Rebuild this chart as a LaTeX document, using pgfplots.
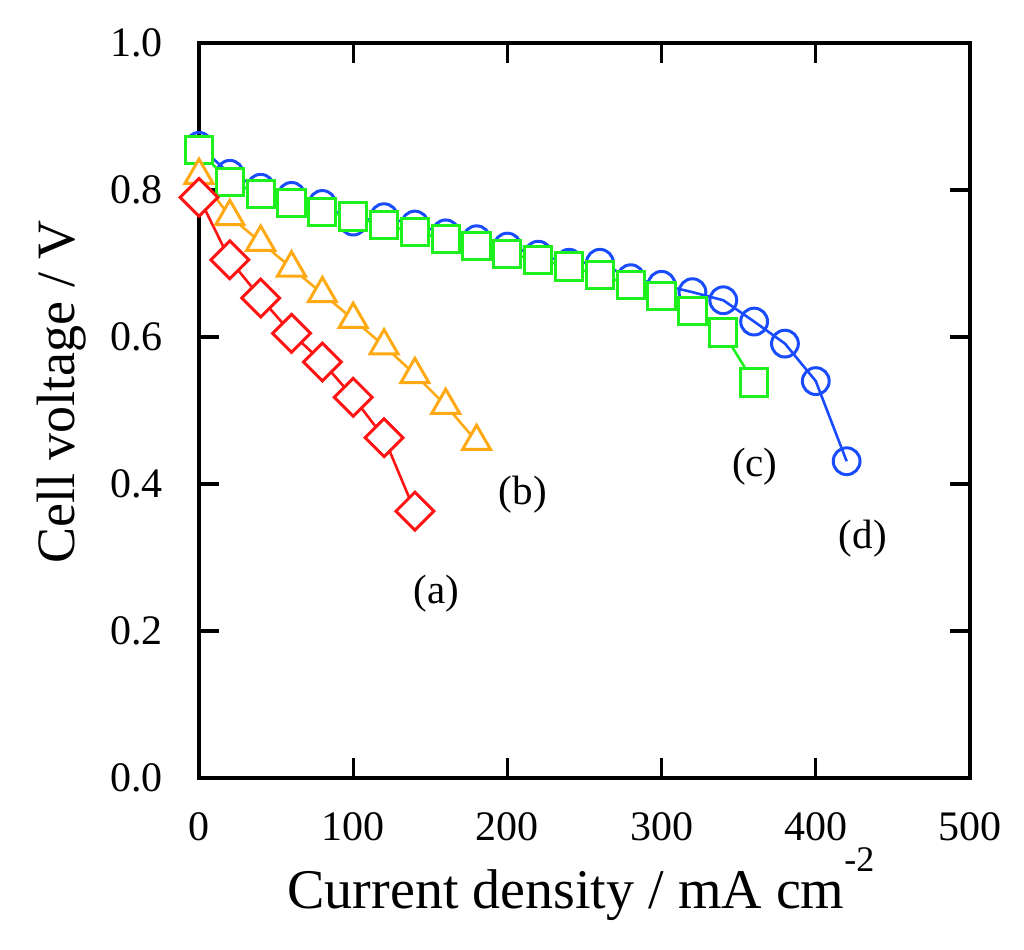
\documentclass[border=0pt]{standalone}
\usepackage{fontspec}
\setmainfont{Liberation Serif}
\usepackage{pgfplots}
\pgfplotsset{compat=1.18}
\definecolor{cblue}{RGB}{25,75,255}
\definecolor{cgreen}{RGB}{30,240,30}
\definecolor{corange}{RGB}{255,170,20}
\definecolor{cred}{RGB}{255,20,20}
\begin{document}
\begin{tikzpicture}
\path[use as bounding box] (-99.5pt,-85.5pt) rectangle (412.5pt,389pt);
\begin{axis}[
  at={(0pt,0pt)}, anchor=south west,
  scale only axis, width=385.5pt, height=367.5pt,
  xmin=0, xmax=500, ymin=0, ymax=1,
  xtick={0,100,200,300,400,500},
  ytick={0,0.2,0.4,0.6,0.8,1.0},
  tick align=inside, major tick length=10pt,
  axis line style={line width=1.6pt},
  every tick/.style={line width=1.6pt, black},
  /pgf/number format/assume math mode=true,
  tick label style={font=\fontsize{21}{21}\selectfont},
  yticklabel style={/pgf/number format/fixed, /pgf/number format/fixed zerofill, /pgf/number format/precision=1, inner sep=0pt, anchor=east, xshift=-18pt},
  xticklabel style={inner sep=0pt, anchor=north, yshift=-17pt},
  xlabel={Current density / mA cm\raisebox{0.65em}{\fontsize{18}{18}\selectfont -2}},
  ylabel={Cell voltage / V},
  xlabel style={font=\fontsize{28}{28}\selectfont, at={(rel axis cs:0.4955,-0.1769)}, anchor=base},
  ylabel style={font=\fontsize{27}{27}\selectfont, at={(rel axis cs:-0.1777,0.525)}, anchor=center},
  clip=false,
]
\addplot[color=cblue, line width=1.3pt, mark=o, mark size=6.7pt, mark options={line width=1.5pt, fill=white, solid}] coordinates {
(0,0.860) (20,0.822) (40,0.803) (60,0.792) (80,0.781) (100,0.757) (120,0.763) (140,0.753) (160,0.741) (180,0.733) (200,0.723) (220,0.712) (240,0.701) (260,0.701) (280,0.680) (300,0.671) (320,0.661) (340,0.650) (360,0.621) (380,0.591) (400,0.540) (420,0.431)
};
\addplot[color=cgreen, line width=1.3pt, mark=square*, mark size=6.8pt, mark options={line width=1.5pt, fill=white, draw=cgreen}] coordinates {
(0,0.854) (20,0.811) (40,0.795) (60,0.782) (80,0.770) (100,0.764) (120,0.752) (140,0.743) (160,0.733) (180,0.724) (200,0.713) (220,0.705) (240,0.696) (260,0.684) (280,0.671) (300,0.656) (320,0.635) (340,0.606) (360,0.538)
};
\addplot[color=corange, line width=1.3pt, mark=triangle*, mark size=8.1pt, mark options={line width=1.5pt, fill=white, draw=corange}] coordinates {
(0,0.820) (20,0.764) (40,0.729) (60,0.694) (80,0.659) (100,0.624) (120,0.588) (140,0.549) (160,0.507) (180,0.458)
};
\addplot[color=cred, line width=1.3pt, mark=square*, mark size=6.7pt, mark options={line width=1.5pt, fill=white, draw=cred, rotate=45}] coordinates {
(0,0.790) (20,0.705) (40,0.653) (60,0.605) (80,0.566) (100,0.518) (120,0.463) (140,0.363)
};
\node[font=\fontsize{20.5}{20.5}\selectfont] at (axis cs:154,0.251) {(a)};
\node[font=\fontsize{20.5}{20.5}\selectfont] at (axis cs:210,0.385) {(b)};
\node[font=\fontsize{20.5}{20.5}\selectfont] at (axis cs:360.5,0.424) {(c)};
\node[font=\fontsize{20.5}{20.5}\selectfont] at (axis cs:430.5,0.326) {(d)};
\end{axis}
\end{tikzpicture}
\end{document}
